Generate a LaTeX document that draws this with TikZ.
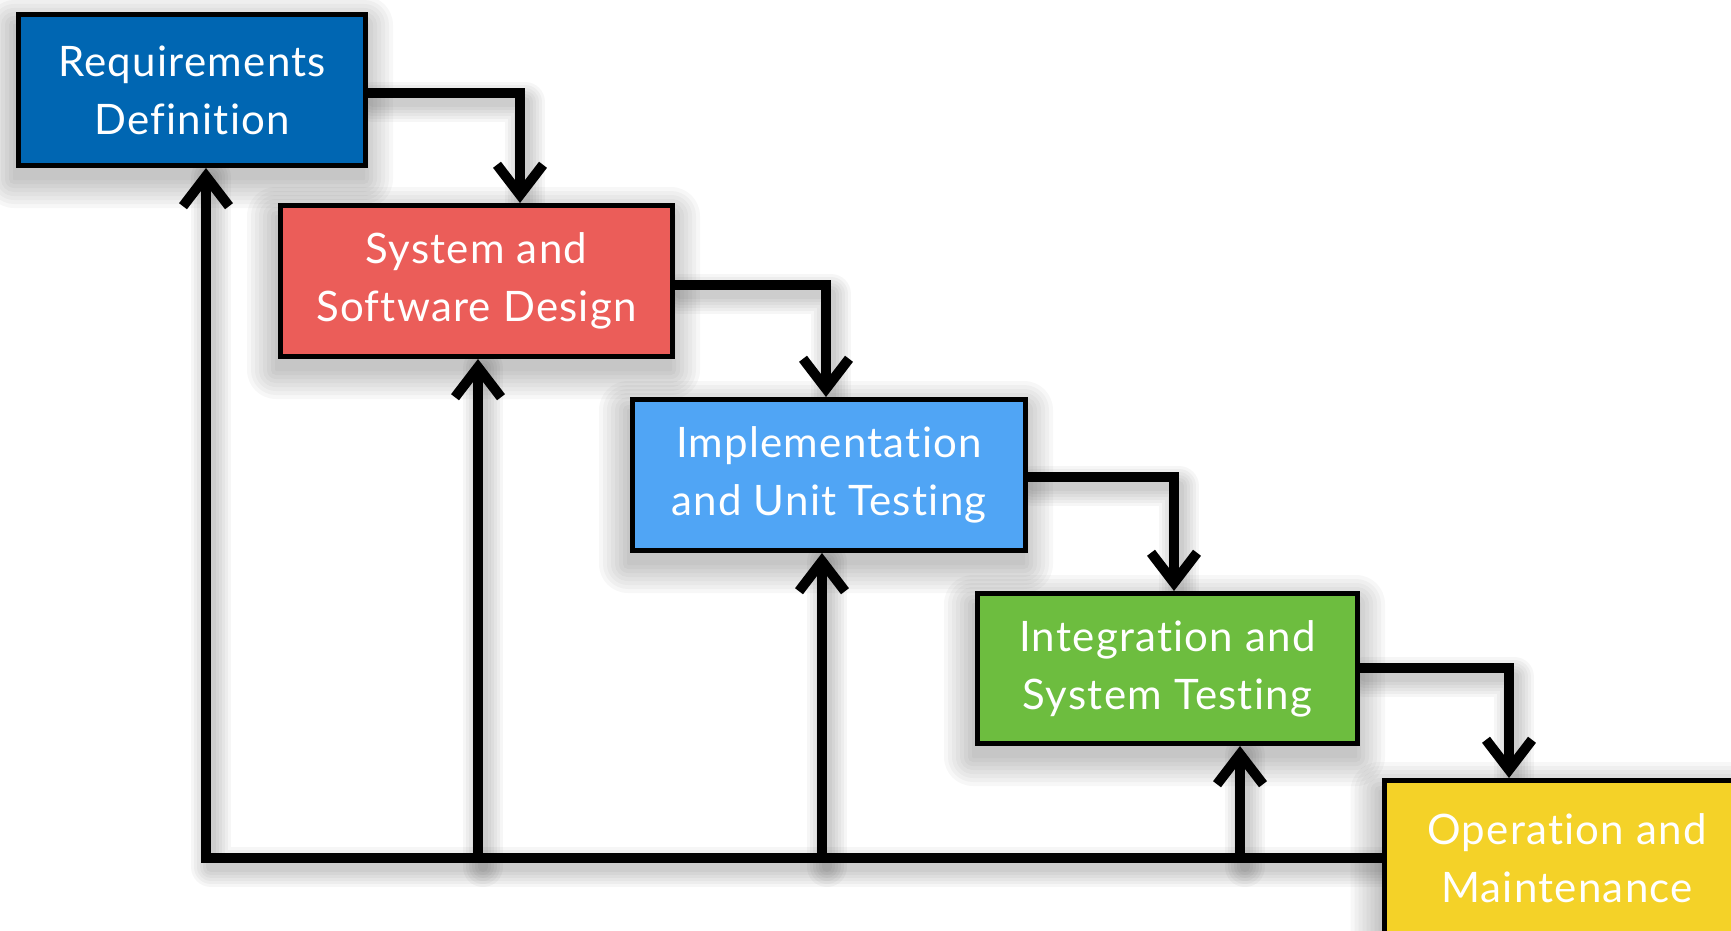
\documentclass[tikz,border=0pt]{standalone}
\usepackage{fontspec}
\setmainfont{Lato}[Ligatures={NoCommon,NoRequired,NoContextual},LetterSpace=3]
\usetikzlibrary{arrows.meta,backgrounds}
\definecolor{cReq}{RGB}{0,102,178}
\definecolor{cSys}{RGB}{235,93,89}
\definecolor{cImp}{RGB}{80,165,245}
\definecolor{cInt}{RGB}{109,189,63}
\definecolor{cOp}{RGB}{244,210,40}
\begin{document}
\begin{tikzpicture}[x=1pt,y=-1pt,
  box/.style={draw=black, line width=5pt, text=white, align=center, inner sep=0pt,
    font=\fontsize{42}{58}\selectfont},
  flow/.style={line width=10pt, line join=miter,
    -{Straight Barb[length=30pt,width=46pt,sharp]}},
  link/.style={line width=10pt, line cap=rect, line join=miter},
  shad/.style={draw=black, opacity=0.035, line width=#1, line cap=round, line join=round},
  boxshad/.style={fill=black, opacity=0.03},
]
\useasboundingbox (0,0) rectangle (1731,931);
% boxes
\node[box, fill=cReq, minimum width=347pt, minimum height=151pt] (req) at (192,90) {Requirements\\Definition};
\node[box, fill=cSys, minimum width=392pt, minimum height=151pt] (sys) at (476.5,281) {System and\\Software Design};
\node[box, fill=cImp, minimum width=393pt, minimum height=151pt] (imp) at (829,475) {Implementation\\and Unit Testing};
\node[box, fill=cInt, minimum width=380pt, minimum height=150pt] (int) at (1167.5,668.5) {Integration and\\System Testing};
\node[box, fill=cOp, minimum width=366pt, minimum height=155pt] (op) at (1567,858) {Operation and\\Maintenance};
% column coordinates
\coordinate (d1) at (520,0);
\coordinate (d2) at (826,0);
\coordinate (d3) at (1174,0);
\coordinate (d4) at (1509,0);
\coordinate (fb) at (206,858);
\coordinate (u2) at (478,858);
\coordinate (u3) at (822,858);
\coordinate (u4) at (1240,858);
% forward connectors
\draw[flow] ([yshift=-3pt]req.east) -| (d1 |- sys.north);
\draw[flow] ([yshift=-4pt]sys.east) -| (d2 |- imp.north);
\draw[flow] ([yshift=-2pt]imp.east) -| (d3 |- int.north);
\draw[flow] ([yshift=1pt]int.east) -| (d4 |- op.north);
% feedback connectors
\draw[link] (op.west |- fb) -- (fb);
\draw[flow] (fb) -- (fb |- req.south);
\draw[flow] (u2) -- (u2 |- sys.south);
\draw[flow] (u3) -- (u3 |- imp.south);
\draw[flow] (u4) -- (u4 |- int.south);
% shadows
\begin{pgfonlayer}{background}
  \begin{scope}[transform canvas={shift={(-3,12)}}]
    \foreach \n in {req,sys,imp,int,op}{
      \foreach \s in {0,4,...,28}{
        \fill[boxshad, rounded corners=\s pt+1pt] ([shift={(-\s,-\s)}]\n.north west) rectangle ([shift={(\s,\s)}]\n.south east);
      }
    }
  \end{scope}
  \begin{scope}[transform canvas={shift={(5,9)}}]
    \foreach \w in {10,16,...,40}{
      \draw[shad=\w] ([yshift=-3pt]req.east) -| (d1 |- sys.north);
      \draw[shad=\w] ([yshift=-4pt]sys.east) -| (d2 |- imp.north);
      \draw[shad=\w] ([yshift=-2pt]imp.east) -| (d3 |- int.north);
      \draw[shad=\w] ([yshift=1pt]int.east) -| (d4 |- op.north);
      \draw[shad=\w] (op.west |- fb) -- (fb) -- (fb |- req.south);
      \draw[shad=\w] (u2) -- (u2 |- sys.south);
      \draw[shad=\w] (u3) -- (u3 |- imp.south);
      \draw[shad=\w] (u4) -- (u4 |- int.south);
    }
  \end{scope}
\end{pgfonlayer}
\end{tikzpicture}
\end{document}
